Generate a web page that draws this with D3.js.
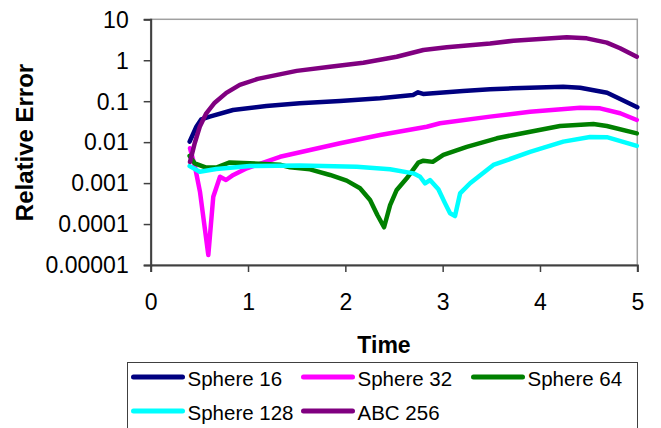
<!DOCTYPE html>
<html>
<head>
<meta charset="utf-8">
<script src="https://cdn.jsdelivr.net/npm/d3@7"></script>
<style>
  body { margin: 0; background: #fff; }
  text { font-family: "Liberation Sans", Arial, sans-serif; fill: #000; }
</style>
</head>
<body>
<div id="chart"></div>
<script>
// series names and colours
var seriesNames = ["Sphere 16", "Sphere 32", "Sphere 64", "Sphere 128", "ABC 256"];
var seriesColors = ["#000080", "#FF00FF", "#008000", "#00FFFF", "#800080"];

// values (time, relative error)
var time16 = [0.40, 0.469, 0.52, 0.606, 0.846, 1.188, 1.531, 1.946, 2.357, 2.696, 2.747, 2.799, 3.21, 3.487, 3.724, 4.238, 4.413, 4.69, 4.824, 5.0];
var err16 = [0.0103, 0.0238, 0.036, 0.042, 0.061, 0.076, 0.089, 0.101, 0.118, 0.142, 0.165, 0.150, 0.177, 0.195, 0.207, 0.226, 0.214, 0.161, 0.113, 0.071];

var time32 = [0.404, 0.455, 0.507, 0.592, 0.643, 0.712, 0.774, 0.849, 0.987, 1.329, 1.946, 2.357, 2.837, 2.973, 3.487, 3.898, 4.412, 4.618, 4.824, 4.995];
var err32 = [0.0071, 0.0025, 0.0006, 0.0000175, 0.000466, 0.00143, 0.00119, 0.00158, 0.0023, 0.0044, 0.0094, 0.015, 0.0238, 0.029, 0.042, 0.0555, 0.069, 0.067, 0.0507, 0.0347];

var time64 = [0.40, 0.452, 0.571, 0.674, 0.812, 1.018, 1.329, 1.432, 1.637, 1.843, 2.014, 2.151, 2.254, 2.329, 2.398, 2.46, 2.528, 2.631, 2.75, 2.802, 2.898, 3.007, 3.248, 3.556, 3.727, 4.206, 4.549, 4.687, 4.995];
var err64 = [0.0046, 0.00305, 0.0024, 0.0024, 0.0032, 0.00305, 0.0028, 0.00243, 0.00217, 0.00158, 0.00115, 0.00075, 0.000387, 0.000166, 0.0000834, 0.00029, 0.00068, 0.00131, 0.00315, 0.00352, 0.0033, 0.0049, 0.0077, 0.0124, 0.015, 0.0248, 0.0277, 0.0248, 0.0164];

var time128 = [0.40, 0.504, 0.674, 1.018, 1.531, 2.117, 2.459, 2.699, 2.768, 2.819, 2.87, 2.956, 3.025, 3.076, 3.127, 3.179, 3.282, 3.367, 3.521, 3.898, 4.24, 4.514, 4.687, 4.995];
var err128 = [0.0026, 0.0019, 0.0022, 0.0026, 0.0027, 0.0025, 0.00217, 0.00173, 0.00143, 0.00099, 0.00119, 0.00071, 0.00032, 0.000183, 0.000157, 0.00056, 0.00099, 0.00143, 0.00277, 0.0058, 0.0103, 0.0134, 0.0132, 0.0081];

var time256 = [0.404, 0.452, 0.504, 0.571, 0.658, 0.777, 0.915, 1.1, 1.3, 1.5, 1.843, 2.185, 2.528, 2.802, 3.042, 3.487, 3.727, 4.275, 4.481, 4.687, 4.823, 4.995];
var err256 = [0.0033, 0.0094, 0.0238, 0.0507, 0.092, 0.16, 0.25, 0.35, 0.44, 0.55, 0.695, 0.87, 1.22, 1.78, 2.07, 2.56, 3.0, 3.63, 3.43, 2.69, 1.96, 1.22];

var xTicks = [0, 1, 2, 3, 4, 5];
var yTicks = [10, 1, 0.1, 0.01, 0.001, 0.0001, 0.00001];
var yTickLabels = ["10", "1", "0.1", "0.01", "0.001", "0.0001", "0.00001"];

var allTimes = [time16, time32, time64, time128, time256];
var allErrs = [err16, err32, err64, err128, err256];

var W = 661, H = 428;
var margin = {top: 19.3, right: 23.7, bottom: 163, left: 150.7};
var width = W - margin.left - margin.right;
var height = H - margin.top - margin.bottom;

var svg = d3.select("#chart").append("svg")
    .attr("width", W)
    .attr("height", H);

var g = svg.append("g")
    .attr("transform", "translate(" + margin.left + "," + margin.top + ")");

var xScale = d3.scaleLinear().domain([0, 5]).range([0, width]);
var yScale = d3.scaleLog().domain([0.00001, 10]).range([height, 0]);

// plot area frame (grey top / right)
g.append("rect")
    .attr("x", 0).attr("y", 0)
    .attr("width", width).attr("height", height)
    .attr("fill", "#fff")
    .attr("stroke", "#a0a0a0")
    .attr("stroke-width", 1.5);

// series lines
var line = d3.line()
    .x(function(d) { return xScale(d[0]); })
    .y(function(d) { return yScale(d[1]); });

seriesNames.forEach(function(name, i) {
    var pts = allTimes[i].map(function(t, j) { return [t, allErrs[i][j]]; });
    g.append("path")
        .datum(pts)
        .attr("fill", "none")
        .attr("stroke", seriesColors[i])
        .attr("stroke-width", 4.5)
        .attr("stroke-linejoin", "round")
        .attr("stroke-linecap", "round")
        .attr("d", line);
});

// axes
var xAxis = d3.axisBottom(xScale).tickValues(xTicks).tickSize(7).tickPadding(22).tickFormat(d3.format("d"));
var yAxis = d3.axisLeft(yScale).tickValues(yTicks).tickSize(7).tickPadding(15)
    .tickFormat(function(d, i) { return yTickLabels[i]; });

var gx = g.append("g")
    .attr("transform", "translate(0," + height + ")")
    .call(xAxis);
var gy = g.append("g").call(yAxis);

[gx, gy].forEach(function(a) {
    a.select(".domain").attr("stroke", "#404040").attr("stroke-width", 2);
    a.selectAll(".tick line").attr("stroke", "#404040").attr("stroke-width", 1.5);
    a.selectAll("text")
        .style("font-family", "'Liberation Sans', Arial, sans-serif")
        .style("font-size", "23px")
        .attr("fill", "#000");
});
gx.selectAll(".tick text").attr("dy", "0.71em");
gy.selectAll(".tick text").attr("dy", "0.34em");

// axis titles
svg.append("text")
    .attr("x", 384)
    .attr("y", 353)
    .attr("text-anchor", "middle")
    .style("font-size", "23px")
    .style("font-weight", "bold")
    .text("Time");

svg.append("text")
    .attr("transform", "translate(33,142.5) rotate(-90)")
    .attr("text-anchor", "middle")
    .style("font-size", "24px")
    .style("font-weight", "bold")
    .text("Relative Error");

// legend
var legend = svg.append("g");
legend.append("rect")
    .attr("x", 127.5).attr("y", 362.5)
    .attr("width", 510).attr("height", 80)
    .attr("fill", "#fff")
    .attr("stroke", "#404040")
    .attr("stroke-width", 1);

var colX = [133.5, 303.5, 473.5];
var rowY = [377, 411];
seriesNames.forEach(function(name, i) {
    var cx = colX[i % 3], cy = rowY[Math.floor(i / 3)];
    legend.append("line")
        .attr("x1", cx).attr("x2", cx + 49)
        .attr("y1", cy).attr("y2", cy)
        .attr("stroke", seriesColors[i])
        .attr("stroke-width", 5)
        .attr("stroke-linecap", "round");
    legend.append("text")
        .attr("x", cx + 54)
        .attr("y", cy + 8.5)
        .style("font-size", "20.5px")
        .text(name);
});
</script>
</body>
</html>
